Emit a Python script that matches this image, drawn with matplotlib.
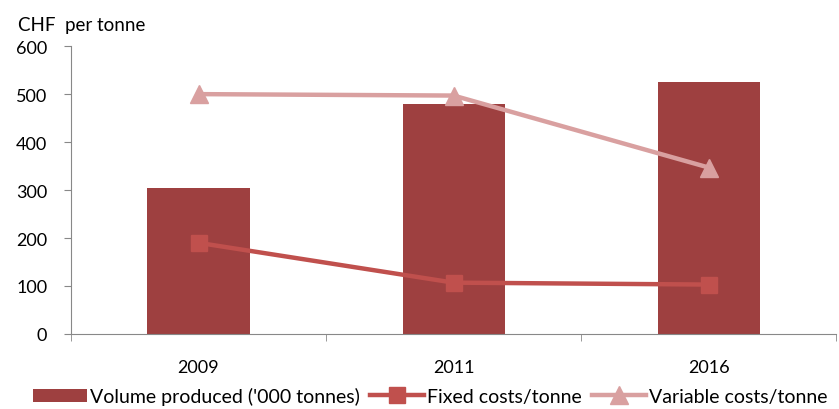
import matplotlib.pyplot as plt
import numpy as np

# chart data
years = ["2009", "2011", "2016"]
volume = [305, 480, 525]
fixed_costs = [190, 107, 103]
variable_costs = [500, 497, 347]

plt.rcParams['font.family'] = ['Lato', 'DejaVu Sans']

fig = plt.figure(figsize=(8.39, 4.10), dpi=100)
ax = fig.add_axes([0.0846, 0.183, 0.912, 0.702])

x = np.arange(len(years))
bars = ax.bar(x, volume, width=0.4, color='#9e4040', zorder=1)
l1, = ax.plot(x, fixed_costs, color='#c0504d', lw=3.2, marker='s', ms=12, zorder=3)
l2, = ax.plot(x, variable_costs, color='#d9a0a0', lw=3.2, marker='^', ms=13, zorder=2)

ax.set_xlim(-0.5, 2.5)
ax.set_ylim(0, 600)
ax.set_yticks(range(0, 601, 100))
ax.set_xticks(x)
ax.set_xticklabels(years)
ax.set_xticks([-0.5, 0.5, 1.5, 2.5], minor=True)
ax.tick_params(axis='x', which='major', length=0, pad=18, labelsize=13)
ax.tick_params(axis='x', which='minor', length=5, color='#888888', direction='out')
ax.tick_params(axis='y', length=5, color='#888888', labelsize=13, pad=12)

for s in ['top', 'right']:
    ax.spines[s].set_visible(False)
ax.spines['left'].set_color('#888888')
ax.spines['bottom'].set_color('#888888')

fig.text(0.021, 0.925, 'CHF  per tonne', fontsize=13.5)

ax.legend([bars, l1, l2],
          ["Volume produced ('000 tonnes)", 'Fixed costs/tonne', 'Variable costs/tonne'],
          loc='upper left', bbox_to_anchor=(-0.05, -0.185), ncol=3, frameon=False,
          fontsize=14, handlelength=2.8, handletextpad=0.15, columnspacing=0.5,
          borderaxespad=0, borderpad=0)

fig.savefig('out.png', dpi=100)
